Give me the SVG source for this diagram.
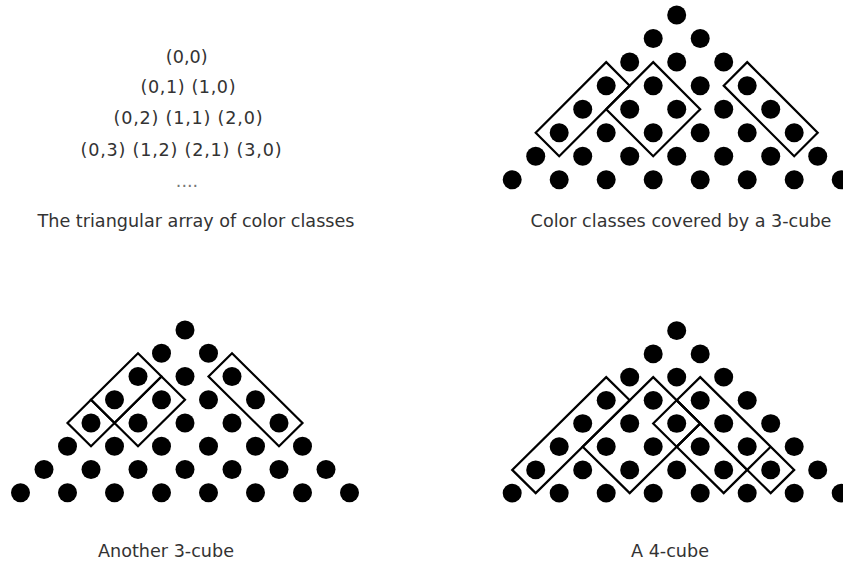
<svg xmlns="http://www.w3.org/2000/svg" xmlns:xlink="http://www.w3.org/1999/xlink" width="843" height="566" viewBox="0 0 843 566">
<style>
  text { font-family: "DejaVu Sans", Verdana, sans-serif; font-size: 17.6px; fill: #333; text-anchor: middle; }
  .dot { fill: #000; }
  .box { fill: none; stroke: #000; stroke-width: 2.2; stroke-linejoin: miter; vector-effect: non-scaling-stroke; }
</style>
<defs>
  <g id="tri">
    <circle class="dot" cx="0" cy="0" r="0.404"/>
    <circle class="dot" cx="-1" cy="1" r="0.404"/><circle class="dot" cx="1" cy="1" r="0.404"/>
    <circle class="dot" cx="-2" cy="2" r="0.404"/><circle class="dot" cx="0" cy="2" r="0.404"/><circle class="dot" cx="2" cy="2" r="0.404"/>
    <circle class="dot" cx="-3" cy="3" r="0.404"/><circle class="dot" cx="-1" cy="3" r="0.404"/><circle class="dot" cx="1" cy="3" r="0.404"/><circle class="dot" cx="3" cy="3" r="0.404"/>
    <circle class="dot" cx="-4" cy="4" r="0.404"/><circle class="dot" cx="-2" cy="4" r="0.404"/><circle class="dot" cx="0" cy="4" r="0.404"/><circle class="dot" cx="2" cy="4" r="0.404"/><circle class="dot" cx="4" cy="4" r="0.404"/>
    <circle class="dot" cx="-5" cy="5" r="0.404"/><circle class="dot" cx="-3" cy="5" r="0.404"/><circle class="dot" cx="-1" cy="5" r="0.404"/><circle class="dot" cx="1" cy="5" r="0.404"/><circle class="dot" cx="3" cy="5" r="0.404"/><circle class="dot" cx="5" cy="5" r="0.404"/>
    <circle class="dot" cx="-6" cy="6" r="0.404"/><circle class="dot" cx="-4" cy="6" r="0.404"/><circle class="dot" cx="-2" cy="6" r="0.404"/><circle class="dot" cx="0" cy="6" r="0.404"/><circle class="dot" cx="2" cy="6" r="0.404"/><circle class="dot" cx="4" cy="6" r="0.404"/><circle class="dot" cx="6" cy="6" r="0.404"/>
    <circle class="dot" cx="-7" cy="7" r="0.404"/><circle class="dot" cx="-5" cy="7" r="0.404"/><circle class="dot" cx="-3" cy="7" r="0.404"/><circle class="dot" cx="-1" cy="7" r="0.404"/><circle class="dot" cx="1" cy="7" r="0.404"/><circle class="dot" cx="3" cy="7" r="0.404"/><circle class="dot" cx="5" cy="7" r="0.404"/><circle class="dot" cx="7" cy="7" r="0.404"/>
  </g>
</defs>
<rect width="843" height="566" fill="#fff"/>

<g id="array-text">
  <text x="186.7" y="63">(0,0)</text>
  <text x="188" y="93" textLength="95" lengthAdjust="spacing">(0,1) (1,0)</text>
  <text x="188" y="124" textLength="149" lengthAdjust="spacing">(0,2) (1,1) (2,0)</text>
  <text x="181" y="156" textLength="201" lengthAdjust="spacing">(0,3) (1,2) (2,1) (3,0)</text>
  <text x="187" y="187" style="fill:#777">....</text>
  <text x="196" y="227">The triangular array of color classes</text>
</g>

<g id="fig-3cube-a">
  <g transform="translate(676.7,15) scale(23.5,23.55)">
    <use href="#tri"/>
    <polygon class="box" points="-3,2 -2,3 -5,6 -6,5"/>
    <polygon class="box" points="-1,2 1,4 -1,6 -3,4"/>
    <polygon class="box" points="3,2 6,5 5,6 2,3"/>
  </g>
  <text x="681" y="227">Color classes covered by a 3-cube</text>
</g>

<g id="fig-3cube-b">
  <g transform="translate(185,330) scale(23.5,23.25)">
    <use href="#tri"/>
    <polygon class="box" points="-2,1 -1,2 -3,4 -4,3"/>
    <polygon class="box" points="-4,3 -3,4 -4,5 -5,4"/>
    <polygon class="box" points="-1,2 0,3 -2,5 -3,4"/>
    <polygon class="box" points="2,1 5,4 4,5 1,2"/>
  </g>
  <text x="166" y="557">Another 3-cube</text>
</g>

<g id="fig-4cube">
  <g transform="translate(676.7,330.7) scale(23.5,23.2)">
    <use href="#tri"/>
    <polygon class="box" points="-3,2 -2,3 -6,7 -7,6"/>
    <polygon class="box" points="-1,2 1,4 -2,7 -4,5"/>
    <polygon class="box" points="0,3 1,4 0,5 -1,4"/>
    <polygon class="box" points="1,2 5,6 4,7 0,3"/>
    <polyline class="box" points="4,5 3,6"/>
    <polygon class="box" points="1,4 3,6 2,7 0,5"/>
  </g>
  <text x="670" y="557">A 4-cube</text>
</g>
</svg>
